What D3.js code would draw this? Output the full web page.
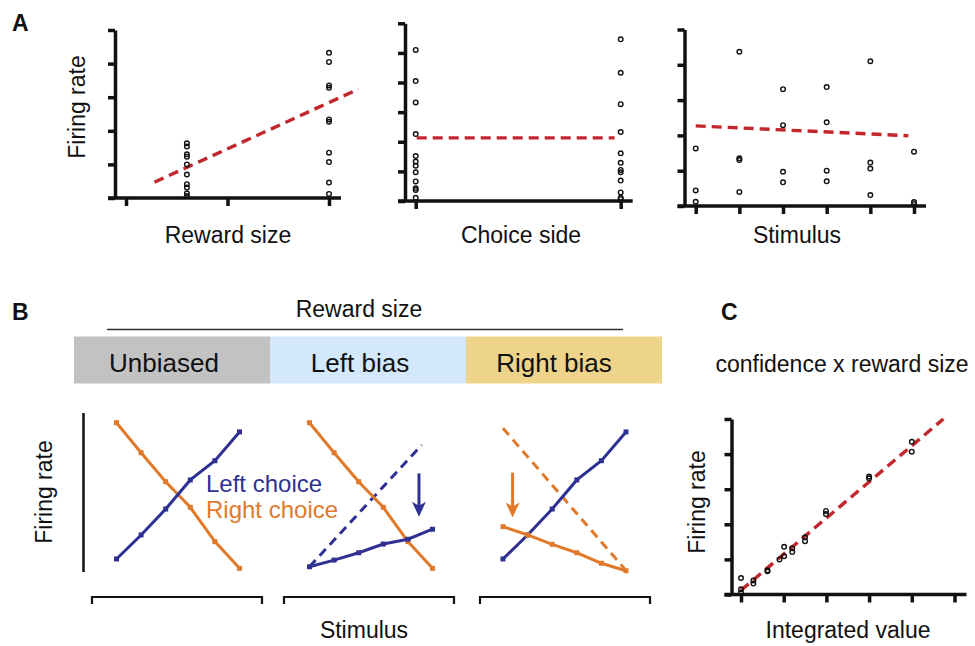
<!DOCTYPE html>
<html>
<head>
<meta charset="utf-8">
<script src="https://cdn.jsdelivr.net/npm/d3@7"></script>
<style>
  body { margin: 0; background: #fff; }
  text { font-family: "Liberation Sans", Arial, sans-serif; fill: #111; }
</style>
</head>
<body>
<div id="fig"></div>
<script>
// Figure: tuning of firing rate (A), bias conditions (B), integrated value (C)

const width = 975;
const height = 646;

// ---- Panel A data (firing rate in tick units) ----
const rewardLevels = [0.6, 2];
const rewardSmall = [1.63, 1.53, 1.30, 1.23, 1.0, 0.70, 0.41, 0.31, 0.14, 0.06];
const rewardLarge = [4.32, 4.05, 3.35, 3.28, 2.34, 2.27, 1.35, 1.07, 0.46, 0.12];
const rewardFit = [[0.28, 0.47], [2.29, 3.24]];

const choiceLevels = [0, 1];
const choiceLeft = [5.10, 4.05, 3.33, 2.26, 1.52, 1.33, 1.19, 0.97, 0.66, 0.43, 0.37, 0.11];
const choiceRight = [5.46, 4.33, 3.27, 2.33, 1.61, 1.29, 1.05, 0.97, 0.69, 0.29, 0.11, 0.06];
const choiceFit = [[0.005, 2.13], [0.97, 2.13]];

const stimLevelsA = [0, 1, 2, 3, 4, 5];
const stimRates = [
  [1.63, 0.44, 0.12],
  [4.37, 1.35, 1.30, 0.40],
  [3.31, 2.29, 0.97, 0.67],
  [3.37, 2.37, 1.00, 0.70],
  [4.10, 1.23, 1.06, 0.31],
  [1.54, 0.11, 0.06]
];
const stimFit = [[0, 2.27], [4.87, 1.99]];

// ---- Panel B data ----
const biasNames = ["Unbiased", "Left bias", "Right bias"];
const biasColors = ["#c2c2c2", "#d3e8fa", "#eed38b"];
const stimLevels = [0, 1, 2, 3, 4, 5];
const leftUnbiased = [0.82, 2.33, 3.96, 5.79, 7.00, 8.81];
const rightUnbiased = [9.39, 7.50, 5.68, 4.07, 1.91, 0.23];
const leftBiased = [0.33, 0.75, 1.21, 1.76, 2.06, 2.69];
const rightBiased = [2.85, 2.33, 1.74, 1.21, 0.55, 0.08];
const leftDashed = [[0, 0.33], [4.56, 7.99]];
const rightDashed = [[0, 9.04], [5, 0.10]];
const arrowX = [4.45, 0.39];
const arrowFrom = [6.2, 6.25];
const arrowTo = [3.48, 3.43];

// ---- Panel C data ----
const intValue = [0, 0, 0, 0.29, 0.29, 0.62, 0.62, 0.90, 1.01, 1.01, 1.20, 1.20, 1.50, 1.50, 1.99, 1.99, 3.0, 3.0, 4.0, 4.0];
const intRate = [0.47, 0.15, 0.05, 0.40, 0.31, 0.69, 0.66, 1.00, 1.09, 1.36, 1.32, 1.21, 1.63, 1.52, 2.38, 2.29, 3.36, 3.31, 4.35, 4.07];
const intFit = [[0, 0.12], [4.74, 5.0]];

const blue = "#2e3192";
const orange = "#e07a2a";
const red = "#c1272d";

const svg = d3.select("#fig")
  .append("svg")
  .attr("width", width)
  .attr("height", height)
  .attr("viewBox", [0, 0, width, height]);

// Draws L-shaped scatter axes (ticks only, no labels)
function scatterAxes(x, y, yAxisX, xTicks, yTicks) {
  const g = svg.append("g");
  g.append("g")
    .attr("transform", `translate(${yAxisX},0)`)
    .call(d3.axisLeft(y).tickValues(yTicks).tickSize(7).tickSizeOuter(0).tickFormat(""));
  const xg = g.append("g")
    .attr("transform", `translate(0,${y(0)})`)
    .call(d3.axisBottom(x).tickValues(xTicks).tickSize(8).tickFormat(""));
  xg.select(".domain").remove();
  g.append("line")
    .attr("x1", yAxisX - 7)
    .attr("x2", x(d3.max(xTicks)) + 12)
    .attr("y1", y(0))
    .attr("y2", y(0));
  g.selectAll("path, line")
    .attr("stroke", "#111")
    .attr("stroke-width", 3.5)
    .attr("fill", "none");
  return g;
}

function dots(pts, x, y) {
  svg.append("g").selectAll("circle")
    .data(pts)
    .enter()
    .append("circle")
      .attr("cx", d => x(d[0]))
      .attr("cy", d => y(d[1]))
      .attr("r", 2.3)
      .attr("fill", "none")
      .attr("stroke", "#111")
      .attr("stroke-width", 1.4);
}

function fitLine(fit, x, y) {
  svg.append("line")
    .attr("x1", x(fit[0][0])).attr("y1", y(fit[0][1]))
    .attr("x2", x(fit[1][0])).attr("y2", y(fit[1][1]))
    .attr("stroke", red)
    .attr("stroke-width", 3.4)
    .attr("stroke-dasharray", "10,6");
}

function label(txt, x, y, opts = {}) {
  const t = svg.append("text")
    .attr("x", x)
    .attr("y", y)
    .attr("font-size", opts.size || 23)
    .attr("text-anchor", opts.anchor || "middle")
    .text(txt);
  if (opts.bold) t.attr("font-weight", "bold");
  if (opts.color) t.style("fill", opts.color);
  if (opts.rotate) t.attr("transform", `rotate(-90,${x},${y})`);
  return t;
}

/*
  Panel A
*/
label("A", 12, 31, {bold: true, anchor: "start"});
label("Firing rate", 85, 107, {rotate: true});

// A1: reward size
const xA1 = d3.scaleLinear().domain([0, 2]).range([126, 329]);
const yA1 = d3.scaleLinear().domain([0, 5]).range([198, 30]);
scatterAxes(xA1, yA1, 115, [0, 1, 2], d3.range(0, 6));
fitLine(rewardFit, xA1, yA1);
dots(rewardSmall.map(v => [rewardLevels[0], v]).concat(rewardLarge.map(v => [rewardLevels[1], v])), xA1, yA1);
label("Reward size", 228, 243);

// A2: choice side
const xA2 = d3.scaleLinear().domain([0, 1]).range([415.7, 620.7]);
const yA2 = d3.scaleLinear().domain([0, 6]).range([201, 23.3]);
scatterAxes(xA2, yA2, 405, choiceLevels, d3.range(0, 7));
fitLine(choiceFit, xA2, yA2);
dots(choiceLeft.map(v => [choiceLevels[0], v]).concat(choiceRight.map(v => [choiceLevels[1], v])), xA2, yA2);
label("Choice side", 521, 243);

// A3: stimulus
const xA3 = d3.scaleLinear().domain([0, 5]).range([695.7, 914]);
const yA3 = d3.scaleLinear().domain([0, 5]).range([206, 29.5]);
scatterAxes(xA3, yA3, 684.5, stimLevelsA, d3.range(0, 6));
fitLine(stimFit, xA3, yA3);
dots(stimRates.flatMap((vals, i) => vals.map(v => [stimLevelsA[i], v])), xA3, yA3);
label("Stimulus", 797, 243);

/*
  Panel B
*/
label("B", 12, 320, {bold: true, anchor: "start"});
label("Reward size", 359, 317);
svg.append("line")
  .attr("x1", 107).attr("x2", 623)
  .attr("y1", 329.5).attr("y2", 329.5)
  .attr("stroke", "#333").attr("stroke-width", 1.6);

const bandX = d3.scaleBand().domain(biasNames).range([74, 662]);
svg.append("g").selectAll("rect")
  .data(biasNames)
  .enter()
  .append("rect")
    .attr("x", d => bandX(d))
    .attr("y", 336.5)
    .attr("width", bandX.bandwidth())
    .attr("height", 47)
    .attr("fill", (d, i) => biasColors[i]);
const bandTextShift = [-8, -8, -10];
biasNames.forEach((d, i) => {
  label(d, bandX(d) + bandX.bandwidth() / 2 + bandTextShift[i], 372, {size: 26});
});

const yB = d3.scaleLinear().domain([0, 10]).range([572, 413]);
const subX = [116.5, 309.5, 503].map(x0 => d3.scaleLinear().domain([0, 5]).range([x0, x0 + 123]));
const bracketX = [92, 284, 480];

// y axis of B
svg.append("line")
  .attr("x1", 83.5).attr("x2", 83.5)
  .attr("y1", yB(10)).attr("y2", yB(0))
  .attr("stroke", "#111").attr("stroke-width", 2.5);
label("Firing rate", 52, 492, {rotate: true});

// brackets under each sub-plot
bracketX.forEach(x0 => {
  svg.append("path")
    .attr("d", `M${x0},604V597H${x0 + 170}V604`)
    .attr("fill", "none")
    .attr("stroke", "#111")
    .attr("stroke-width", 2.2);
});
label("Stimulus", 364, 638);

const lineB = (x) => d3.line().x((d, i) => x(stimLevels[i])).y(d => yB(d));
const linePts = (x) => d3.line().x(d => x(d[0])).y(d => yB(d[1]));

function solid(vals, x, color) {
  svg.append("path")
    .datum(vals)
    .attr("d", lineB(x))
    .attr("fill", "none")
    .attr("stroke", color)
    .attr("stroke-width", 3);
  svg.append("g").selectAll("rect")
    .data(vals)
    .enter()
    .append("rect")
      .attr("x", (d, i) => x(stimLevels[i]) - 2.5)
      .attr("y", d => yB(d) - 2.5)
      .attr("width", 5)
      .attr("height", 5)
      .attr("fill", color);
}

function dashed(pts, x, color) {
  svg.append("path")
    .datum(pts)
    .attr("d", linePts(x))
    .attr("fill", "none")
    .attr("stroke", color)
    .attr("stroke-width", 3)
    .attr("stroke-dasharray", "9,6");
}

function arrow(i, x, color) {
  const ax = x(arrowX[i]);
  const y0 = yB(arrowFrom[i]);
  const y1 = yB(arrowTo[i]);
  svg.append("line")
    .attr("x1", ax).attr("x2", ax)
    .attr("y1", y0).attr("y2", y1 - 10)
    .attr("stroke", color).attr("stroke-width", 3);
  svg.append("path")
    .attr("d", `M${ax},${y1}L${ax - 7},${y1 - 15}L${ax},${y1 - 11}L${ax + 7},${y1 - 15}Z`)
    .attr("fill", color);
}

// B1: unbiased
solid(rightUnbiased, subX[0], orange);
solid(leftUnbiased, subX[0], blue);
label("Left choice", 206, 492, {size: 24, anchor: "start", color: blue});
label("Right choice", 206, 518, {size: 24, anchor: "start", color: orange});

// B2: left bias
dashed(leftDashed, subX[1], blue);
solid(rightUnbiased, subX[1], orange);
solid(leftBiased, subX[1], blue);
arrow(0, subX[1], blue);

// B3: right bias
dashed(rightDashed, subX[2], orange);
solid(leftUnbiased, subX[2], blue);
solid(rightBiased, subX[2], orange);
arrow(1, subX[2], orange);

/*
  Panel C
*/
label("C", 721, 320, {bold: true, anchor: "start"});
label("confidence x reward size", 842, 372);

const xC = d3.scaleLinear().domain([0, 5]).range([741, 954.5]);
const yC = d3.scaleLinear().domain([0, 5]).range([594.5, 419]);
scatterAxes(xC, yC, 731.5, d3.range(0, 6), d3.range(0, 6));
fitLine(intFit, xC, yC);
dots(intValue.map((v, i) => [v, intRate[i]]), xC, yC);
label("Firing rate", 705, 502, {rotate: true});
label("Integrated value", 848, 638);
</script>
</body>
</html>
